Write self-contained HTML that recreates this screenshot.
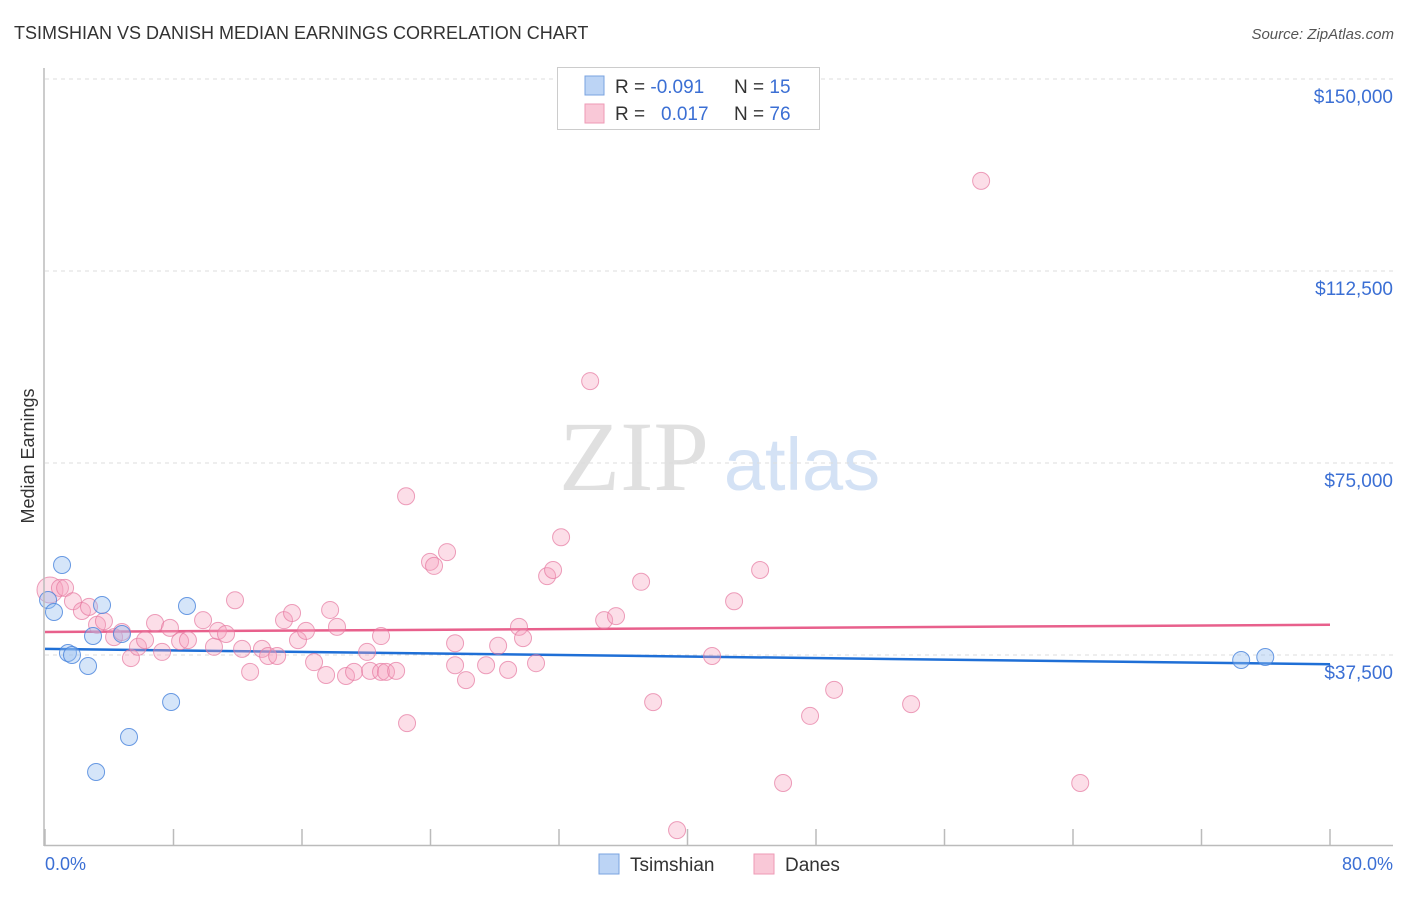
<!DOCTYPE html>
<html><head><meta charset="utf-8"><style>
body{margin:0;background:#fff;font-family:"Liberation Sans",sans-serif}
svg text{font-family:"Liberation Sans",sans-serif}
</style></head><body>
<svg id="c" width="1406" height="892" viewBox="0 0 1406 892">
<text x="14" y="39" font-size="18" fill="#333">TSIMSHIAN VS DANISH MEDIAN EARNINGS CORRELATION CHART</text>
<text x="1394" y="39" font-size="15" fill="#555" font-style="italic" text-anchor="end">Source: ZipAtlas.com</text>
<g>
<text x="634" y="490" font-size="100" style="font-family:'Liberation Serif',serif" fill="#e0e0e0" text-anchor="middle">ZIP</text>
<text x="802" y="490" font-size="74" fill="#d4e2f5" text-anchor="middle">atlas</text>
</g>
<text transform="translate(34,456) rotate(-90)" font-size="18" fill="#333" text-anchor="middle">Median Earnings</text>
<g id="grid"></g><g id="ticks"></g><g id="lines"></g><g id="pts"></g>
<line x1="44" y1="68" x2="44" y2="846" stroke="#bbb" stroke-width="1.5"/>
<line x1="44" y1="845.5" x2="1393" y2="845.5" stroke="#bbb" stroke-width="1.5"/>
<text x="45" y="870" font-size="18" fill="#3b6fd4">0.0%</text>
<text x="1393" y="870" font-size="18" fill="#3b6fd4" text-anchor="end">80.0%</text>
<g>
<rect x="557.5" y="67.5" width="262" height="62" fill="#fff" stroke="#ccc"/>
<rect x="585" y="76" width="19" height="19" fill="#bcd4f5" stroke="#7aa3e0"/>
<rect x="585" y="104" width="19" height="19" fill="#f9c8d7" stroke="#ee9ab6"/>
<text x="615" y="93" font-size="19" fill="#333">R = <tspan fill="#3b6fd4">-0.091</tspan><tspan x="734">N = </tspan><tspan fill="#3b6fd4">15</tspan></text>
<text x="615" y="120" font-size="19" fill="#333">R = <tspan x="661" fill="#3b6fd4">0.017</tspan><tspan x="734">N = </tspan><tspan fill="#3b6fd4">76</tspan></text>
</g>
<g>
<rect x="599" y="854" width="20" height="20" fill="#bcd4f5" stroke="#7aa3e0"/>
<text x="630" y="871" font-size="19" fill="#333">Tsimshian</text>
<rect x="754" y="854" width="20" height="20" fill="#f9c8d7" stroke="#ee9ab6"/>
<text x="785" y="871" font-size="19" fill="#333">Danes</text>
</g>
</svg>
<script>
const yTicks=[37500,75000,112500,150000];
const yTickLabels=["$37,500","$75,000","$112,500","$150,000"];
const xTicks=[0,8,16,24,32,40,48,56,64,72,80];
const tsimX=[0.19,0.56,1.06,1.43,1.68,2.68,2.99,3.18,3.55,4.79,5.23,7.85,8.84,74.47,75.97];
const tsimY=[48240,45900,55080,37890,37500,35350,41210,14650,47270,41600,21490,28320,47070,36520,37110];
const danesX=[0.31,0.93,1.25,1.74,2.30,2.74,3.24,3.67,4.30,4.79,5.35,5.79,6.23,6.85,7.29,7.78,8.41,8.90,9.84,10.52,10.77,11.27,11.83,12.27,12.77,13.51,13.89,14.45,14.88,15.38,15.75,16.25,16.75,17.50,17.75,18.18,18.74,19.24,20.05,20.24,20.92,21.23,21.86,20.92,22.48,22.54,23.97,24.22,25.03,25.53,25.53,26.21,27.46,28.21,28.83,29.51,29.76,30.57,31.26,31.63,32.13,33.94,34.81,35.55,37.11,37.86,39.35,41.53,42.90,44.52,45.95,47.63,49.13,53.92,58.28,64.45];
const danesY=[50200,50600,50600,48000,46100,46900,43400,44100,41000,42000,36900,39100,40400,43750,38100,42800,40200,40400,44300,39100,42200,41600,48200,38700,34200,38700,37300,37300,44300,45700,40400,42200,36100,33600,46300,43000,33400,34200,38100,34400,34200,34200,34400,41200,68500,24200,55700,54900,57600,39800,35500,32600,35500,39300,34600,43000,40800,35900,52900,54100,60500,91000,44300,45100,51800,28300,3300,37300,48000,54100,12500,25600,30700,27900,130100,12500];
const tsimTrend=[38700,35700];
const danesTrend=[42000,43400];
const NS="http://www.w3.org/2000/svg";
const xs=v=>45+v*(1330-45)/80;
const ys=v=>655-(v-37500)*192/37500;
function mk(tag,attrs,parent){const e=document.createElementNS(NS,tag);for(const k in attrs)e.setAttribute(k,attrs[k]);document.getElementById(parent).appendChild(e);return e;}
yTicks.forEach((t,i)=>{
  const l=mk('line',{x1:45,x2:1393,y1:ys(t),y2:ys(t),stroke:'#ddd','stroke-dasharray':'4,4'},'grid');
  
  
  const tx=mk('text',{x:1393,y:ys(t)+24,'font-size':19,fill:'#3b6fd4','text-anchor':'end'},'grid');
  tx.textContent=yTickLabels[i];
  
  
});
xTicks.forEach(t=>{
  const l=mk('line',{x1:xs(t),x2:xs(t),y1:829,y2:845,stroke:'#bbb','stroke-width':1.5},'ticks');
  
  
});
danesX.forEach((x,i)=>{
  const c=mk('circle',{cx:xs(x),cy:ys(danesY[i]),r:i===0?13:8.5,fill:'rgba(245,160,190,0.35)',stroke:'rgba(230,120,160,0.7)','stroke-width':1},'pts');
  
  
});
tsimX.forEach((x,i)=>{
  const c=mk('circle',{cx:xs(x),cy:ys(tsimY[i]),r:8.5,fill:'rgba(150,190,240,0.4)',stroke:'rgba(70,130,220,0.8)','stroke-width':1},'pts');
  
  
});
const l1=mk('line',{x1:xs(0),x2:xs(80),y1:ys(danesTrend[0]),y2:ys(danesTrend[1]),stroke:'#e8608c','stroke-width':2.5},'lines');


const l2=mk('line',{x1:xs(0),x2:xs(80),y1:ys(tsimTrend[0]),y2:ys(tsimTrend[1]),stroke:'#1f6fd6','stroke-width':2.5},'lines');


</script>
</body></html>
